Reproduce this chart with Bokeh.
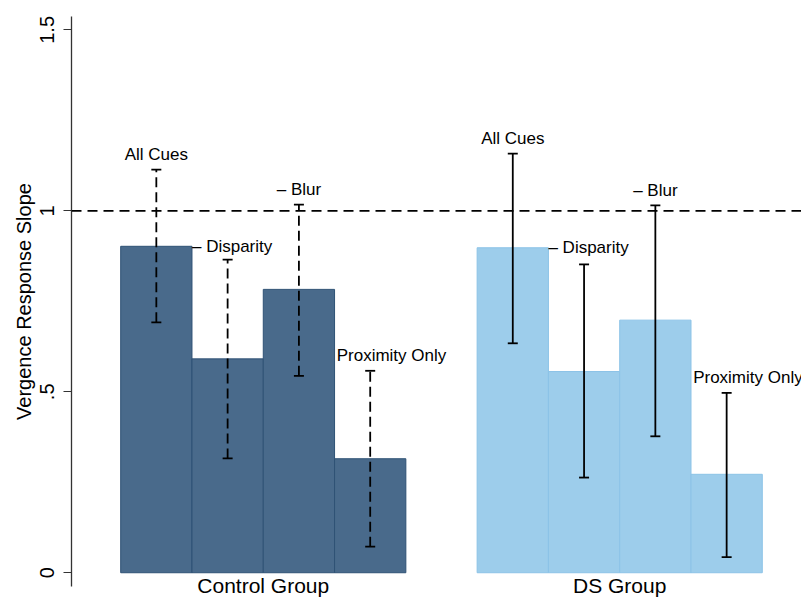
from bokeh.plotting import figure
from bokeh.models import (ColumnDataSource, Range1d, Span, Whisker, TeeHead,
                          FixedTicker)
from bokeh.core.properties import value
from bokeh.embed import file_html
from bokeh.resources import INLINE

# Vergence response slopes by cue condition, per group
groups = ["Control Group", "DS Group"]
conditions = ["All Cues", "– Disparity", "– Blur", "Proximity Only"]
control_mean = [0.902, 0.591, 0.783, 0.315]
control_hi = [1.114, 0.865, 1.017, 0.558]
control_lo = [0.692, 0.316, 0.544, 0.072]
ds_mean = [0.898, 0.556, 0.698, 0.272]
ds_hi = [1.158, 0.852, 1.015, 0.497]
ds_lo = [0.634, 0.263, 0.377, 0.043]
y_ticks = [0, 0.5, 1, 1.5]
y_tick_labels = ["0", ".5", "1", "1.5"]

FONT = "Liberation Sans"
DARK = "#496a8b"
DARK_EDGE = "#2f5275"
LIGHT = "#9dcdeb"
LIGHT_EDGE = "#8cc3e7"

ctrl_x = [1, 2, 3, 4]
ds_x = [6, 7, 8, 9]
group_x = [sum(ctrl_x) / 4, sum(ds_x) / 4]

p = figure(width=801, height=599, output_backend="svg", toolbar_location=None,
           x_range=Range1d(-0.19, 10.05), y_range=Range1d(-0.038, 1.537),
           min_border_left=71, min_border_right=0, min_border_top=16,
           min_border_bottom=12)
p.outline_line_color = None
p.grid.visible = False
p.background_fill_color = "white"
p.border_fill_color = "white"

# y axis
ya = p.yaxis[0]
ya.ticker = FixedTicker(ticks=y_ticks)
ya.major_label_overrides = {t: s for t, s in zip(y_ticks, y_tick_labels)}
ya.major_label_orientation = "vertical"
ya.major_label_text_font = FONT
ya.major_label_text_font_size = "20px"
ya.major_label_text_color = "black"
ya.major_label_standoff = 9
ya.major_tick_out = 8
ya.major_tick_in = 0
ya.minor_tick_out = 0
ya.minor_tick_in = 0
ya.axis_line_color = "#333333"
ya.axis_line_width = 1.3
ya.major_tick_line_color = "#333333"
ya.axis_label = "Vergence Response Slope"
ya.axis_label_text_font = FONT
ya.axis_label_text_font_size = "20px"
ya.axis_label_text_font_style = "normal"
ya.axis_label_text_color = "black"
ya.axis_label_standoff = 3

# x axis: group names only
xa = p.xaxis[0]
xa.ticker = FixedTicker(ticks=group_x)
xa.major_label_overrides = {gx: g for gx, g in zip(group_x, groups)}
xa.axis_line_color = None
xa.major_tick_line_color = None
xa.minor_tick_line_color = None
xa.major_tick_out = 0
xa.major_tick_in = 0
xa.major_label_standoff = -13
xa.major_label_text_font = FONT
xa.major_label_text_font_size = "21px"
xa.major_label_text_color = "black"

# reference line at slope 1
p.add_layout(Span(location=1, dimension="width", line_color="black",
                  line_width=1.6, line_dash="10 6"))

# bars
p.vbar(x=ctrl_x, top=control_mean, bottom=0, width=1.0, fill_color=DARK,
       line_color=DARK_EDGE, line_width=1)
p.vbar(x=ds_x, top=ds_mean, bottom=0, width=1.0, fill_color=LIGHT,
       line_color=LIGHT_EDGE, line_width=1)

# error bars: dashed for the control group, solid for the DS group
ctrl_src = ColumnDataSource(dict(x=ctrl_x, hi=control_hi, lo=control_lo))
ds_src = ColumnDataSource(dict(x=ds_x, hi=ds_hi, lo=ds_lo))
for src, dash in ((ctrl_src, "10 5"), (ds_src, "solid")):
    w = Whisker(source=src, base="x", upper="hi", lower="lo",
                line_color="black", line_width=1.8, line_dash=dash,
                upper_head=TeeHead(size=10, line_width=1.8, line_color="black"),
                lower_head=TeeHead(size=10, line_width=1.8, line_color="black"),
                level="overlay")
    p.add_layout(w)

# condition labels
for xs, means, his in ((ctrl_x, control_mean, control_hi),
                       (ds_x, ds_mean, ds_hi)):
    # centred above the whisker
    for i in (0, 2):
        p.text(x=[xs[i]], y=[his[i]], text=[conditions[i]],
               text_font=value(FONT), text_font_size="17px",
               text_align="center", text_baseline="middle", y_offset=-15,
               text_color="black")
    # beside the top of the first bar
    p.text(x=[xs[1] - 0.5], y=[means[0]], text=[conditions[1]],
           text_font=value(FONT), text_font_size="17px",
           text_align="left", text_baseline="middle", text_color="black")
    # left-aligned over the last bar
    p.text(x=[xs[3] - 0.47], y=[his[3]], text=[conditions[3]],
           text_font=value(FONT), text_font_size="17px",
           text_align="left", text_baseline="middle", y_offset=-15,
           text_color="black")

open("out.html", "w").write(file_html(p, INLINE))
